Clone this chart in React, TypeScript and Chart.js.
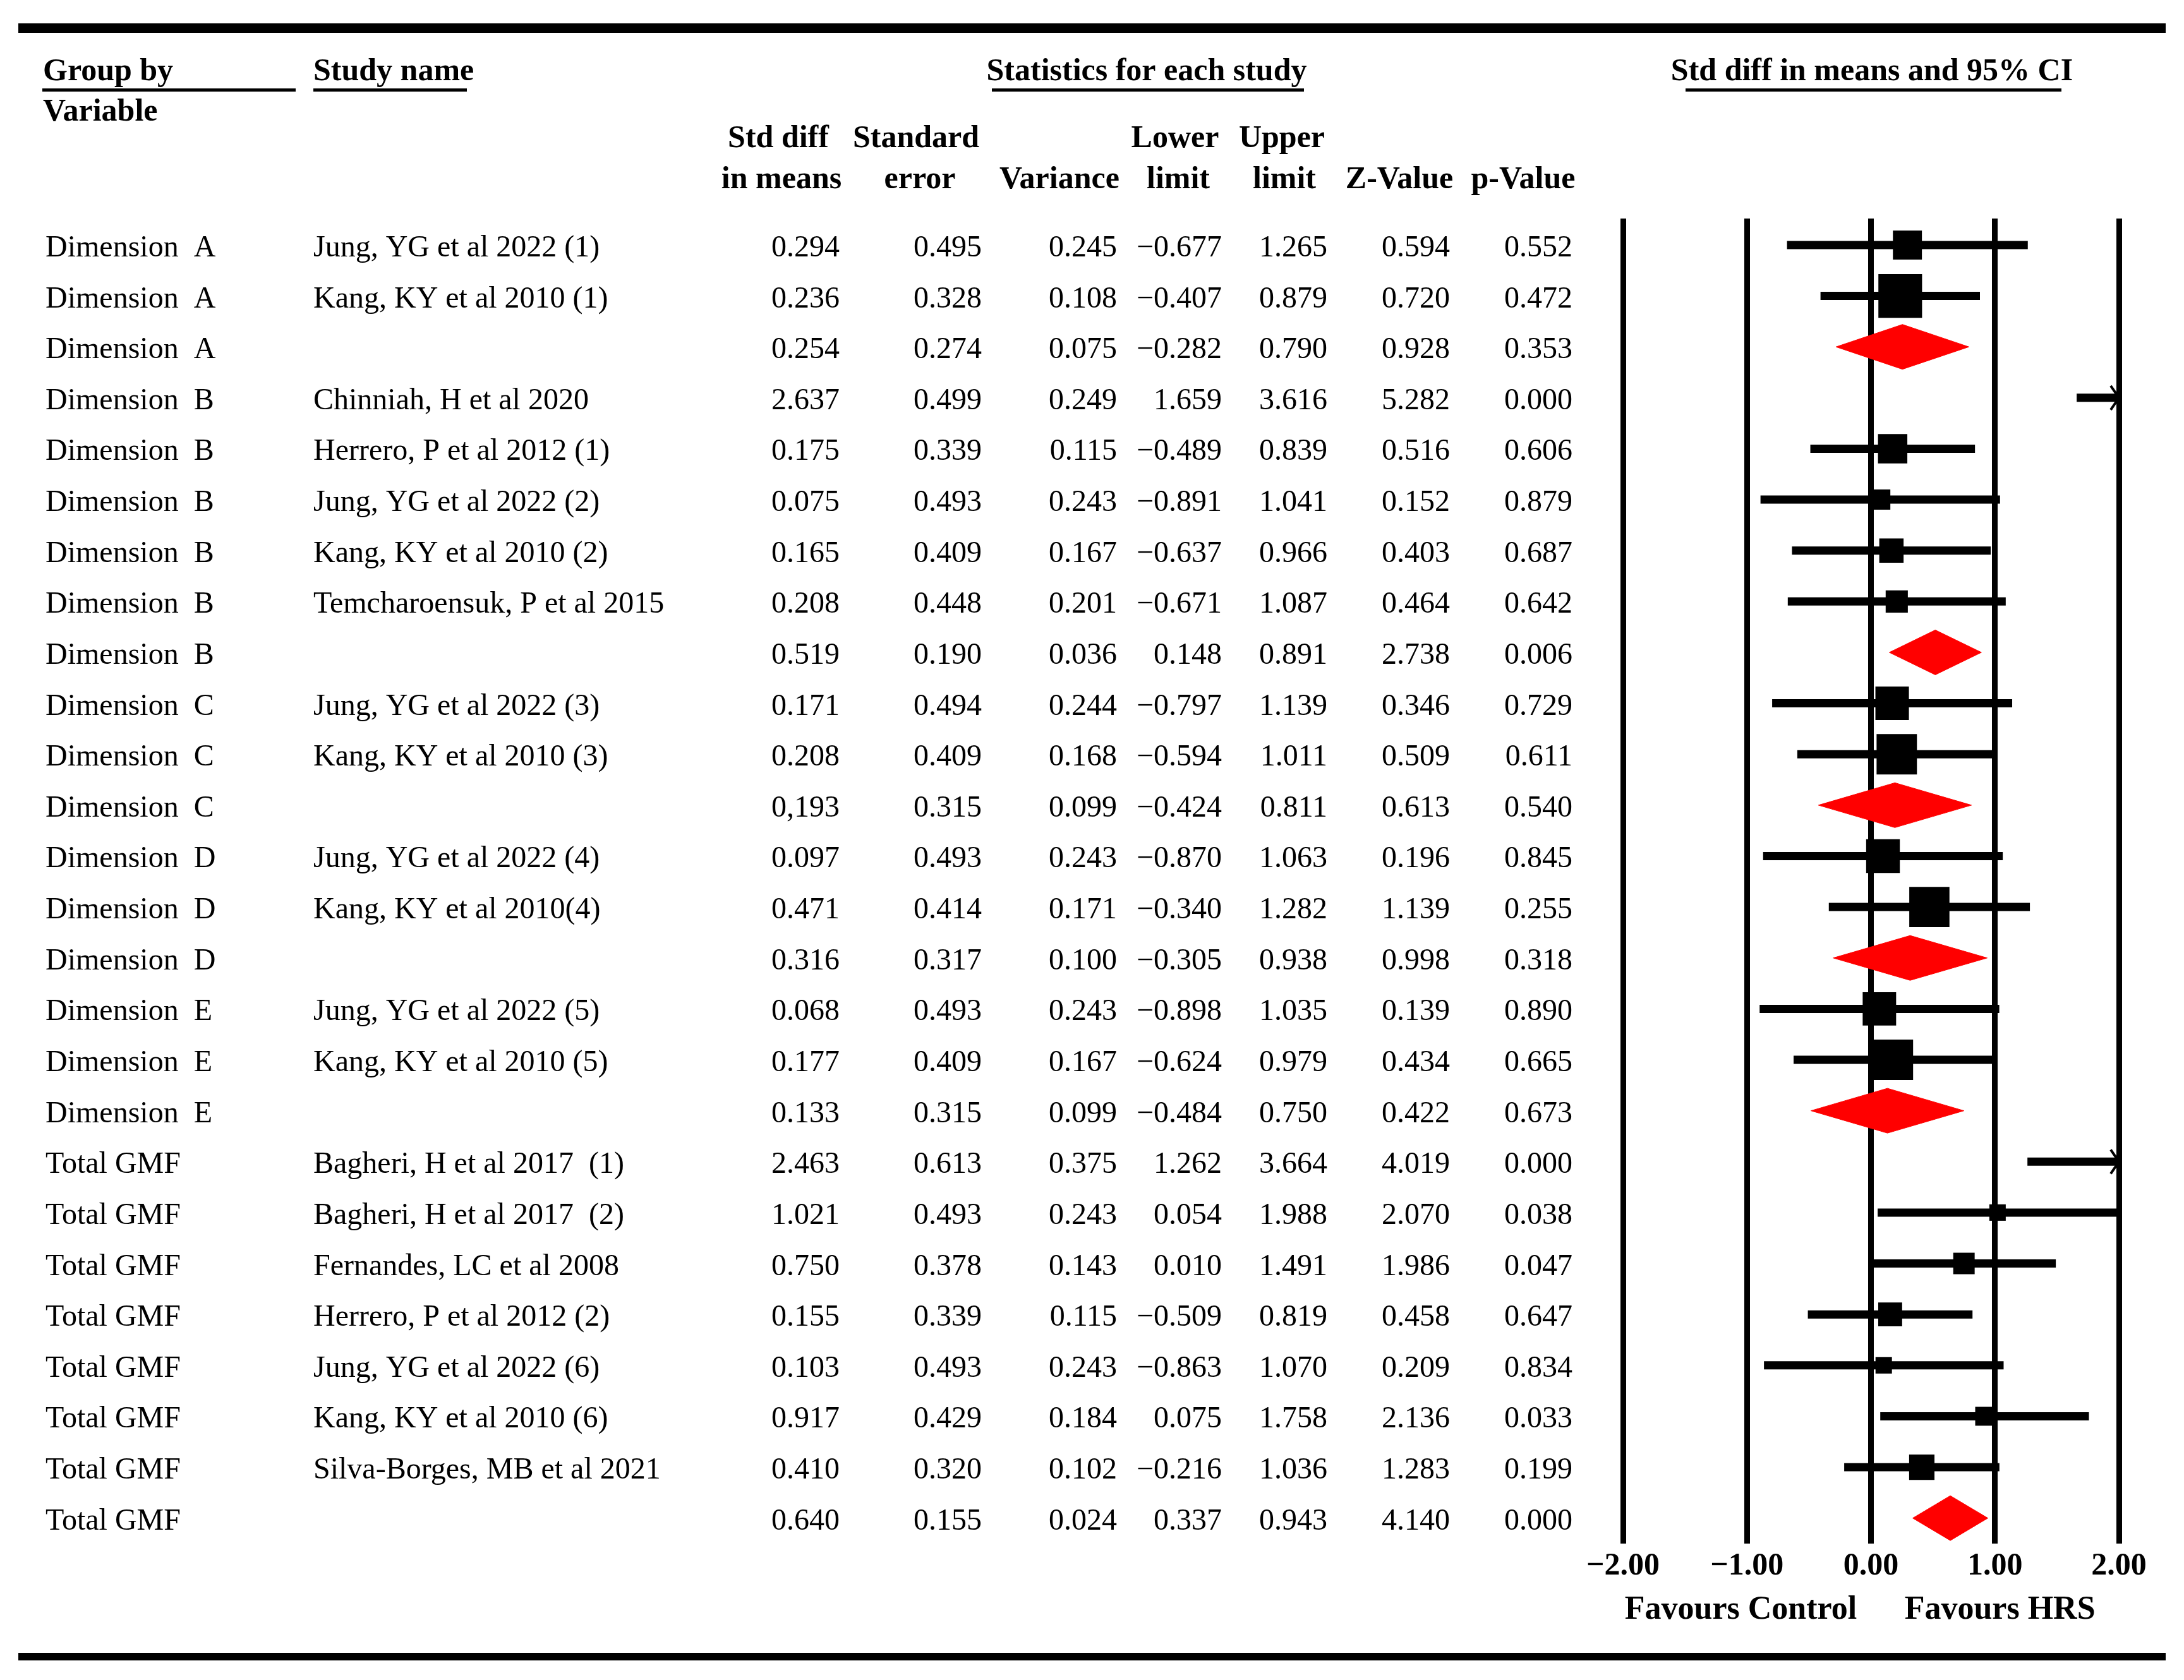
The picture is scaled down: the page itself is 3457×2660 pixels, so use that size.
import React, { useEffect, useRef } from 'react';
import { Chart, registerables } from 'chart.js';

Chart.register(...registerables);

// ---------------- data ----------------
const groups: string[] = [
  'Dimension  A', 'Dimension  A', 'Dimension  A',
  'Dimension  B', 'Dimension  B', 'Dimension  B', 'Dimension  B', 'Dimension  B', 'Dimension  B',
  'Dimension  C', 'Dimension  C', 'Dimension  C',
  'Dimension  D', 'Dimension  D', 'Dimension  D',
  'Dimension  E', 'Dimension  E', 'Dimension  E',
  'Total GMF', 'Total GMF', 'Total GMF', 'Total GMF', 'Total GMF', 'Total GMF', 'Total GMF', 'Total GMF',
];

const studies: string[] = [
  'Jung, YG et al 2022 (1)', 'Kang, KY et al 2010 (1)', '',
  'Chinniah, H et al 2020', 'Herrero, P et al 2012 (1)', 'Jung, YG et al 2022 (2)',
  'Kang, KY et al 2010 (2)', 'Temcharoensuk, P et al 2015', '',
  'Jung, YG et al 2022 (3)', 'Kang, KY et al 2010 (3)', '',
  'Jung, YG et al 2022 (4)', 'Kang, KY et al 2010(4)', '',
  'Jung, YG et al 2022 (5)', 'Kang, KY et al 2010 (5)', '',
  'Bagheri, H et al 2017  (1)', 'Bagheri, H et al 2017  (2)', 'Fernandes, LC et al 2008',
  'Herrero, P et al 2012 (2)', 'Jung, YG et al 2022 (6)', 'Kang, KY et al 2010 (6)',
  'Silva-Borges, MB et al 2021', '',
];

const stdDiff: number[] = [
  0.294, 0.236, 0.254,
  2.637, 0.175, 0.075, 0.165, 0.208, 0.519,
  0.171, 0.208, 0.193,
  0.097, 0.471, 0.316,
  0.068, 0.177, 0.133,
  2.463, 1.021, 0.750, 0.155, 0.103, 0.917, 0.410, 0.640,
];

const stdErr: number[] = [
  0.495, 0.328, 0.274,
  0.499, 0.339, 0.493, 0.409, 0.448, 0.190,
  0.494, 0.409, 0.315,
  0.493, 0.414, 0.317,
  0.493, 0.409, 0.315,
  0.613, 0.493, 0.378, 0.339, 0.493, 0.429, 0.320, 0.155,
];

const variance: number[] = [
  0.245, 0.108, 0.075,
  0.249, 0.115, 0.243, 0.167, 0.201, 0.036,
  0.244, 0.168, 0.099,
  0.243, 0.171, 0.100,
  0.243, 0.167, 0.099,
  0.375, 0.243, 0.143, 0.115, 0.243, 0.184, 0.102, 0.024,
];

const lowerLimit: number[] = [
  -0.677, -0.407, -0.282,
  1.659, -0.489, -0.891, -0.637, -0.671, 0.148,
  -0.797, -0.594, -0.424,
  -0.870, -0.340, -0.305,
  -0.898, -0.624, -0.484,
  1.262, 0.054, 0.010, -0.509, -0.863, 0.075, -0.216, 0.337,
];

const upperLimit: number[] = [
  1.265, 0.879, 0.790,
  3.616, 0.839, 1.041, 0.966, 1.087, 0.891,
  1.139, 1.011, 0.811,
  1.063, 1.282, 0.938,
  1.035, 0.979, 0.750,
  3.664, 1.988, 1.491, 0.819, 1.070, 1.758, 1.036, 0.943,
];

const zValue: number[] = [
  0.594, 0.720, 0.928,
  5.282, 0.516, 0.152, 0.403, 0.464, 2.738,
  0.346, 0.509, 0.613,
  0.196, 1.139, 0.998,
  0.139, 0.434, 0.422,
  4.019, 2.070, 1.986, 0.458, 0.209, 2.136, 1.283, 4.140,
];

const pValue: number[] = [
  0.552, 0.472, 0.353,
  0.000, 0.606, 0.879, 0.687, 0.642, 0.006,
  0.729, 0.611, 0.540,
  0.845, 0.255, 0.318,
  0.890, 0.665, 0.673,
  0.000, 0.038, 0.047, 0.647, 0.834, 0.033, 0.199, 0.000,
];

// relative weight (%) within subgroup — drives the box size (null = summary row)
const relWeight: (number | null)[] = [
  30.6, 69.4, null,
  14.5, 31.3, 14.8, 21.5, 17.9, null,
  40.8, 59.2, null,
  41.3, 58.7, null,
  40.7, 59.3, null,
  6.4, 9.8, 16.7, 20.8, 9.8, 13.0, 23.4, null,
];

// the printed std diff of the Dimension C summary uses a comma
const stdDiffPrinted: Record<number, string> = { 11: '0,193' };

const xTicks: number[] = [-2, -1, 0, 1, 2];
const xMin = -2;
const xMax = 2;

// ---------------- helpers ----------------
const rows = groups.map((_, i) => i + 1);
const fmt = (v: number, d: number) => (v < 0 ? '\u2212' : '') + Math.abs(v).toFixed(d);
const SERIF = '"Liberation Serif", "Times New Roman", serif';
const BOX_K = 8.3; // px per sqrt(% weight)
const DIAMOND_HALF = 0.44; // in row units

export default function App() {
  const canvasRef = useRef<HTMLCanvasElement | null>(null);

  useEffect(() => {
    document.body.style.margin = '0';
    document.body.style.overflow = 'hidden';
    const canvas = canvasRef.current;
    if (!canvas) return;

    const studyIdx = rows.map((_, i) => i).filter((i) => studies[i] !== '');
    const summaryIdx = rows.map((_, i) => i).filter((i) => studies[i] === '');

    const squareData = studyIdx.map((i) => ({ x: stdDiff[i], y: rows[i] }));
    const squareRadius = studyIdx.map((i) => (BOX_K * Math.sqrt(relWeight[i] as number)) / Math.SQRT2);

    const ciDatasets = studyIdx.map((i) => ({
      type: 'line' as const,
      data: [
        { x: lowerLimit[i], y: rows[i] },
        { x: upperLimit[i], y: rows[i] },
      ],
      borderColor: '#000',
      borderWidth: 13,
      borderCapStyle: 'butt' as const,
      pointRadius: 0,
      fill: false,
      clip: 0,
    }));

    const diamondDatasets = summaryIdx.map((i) => ({
      type: 'line' as const,
      data: [
        { x: lowerLimit[i], y: rows[i] },
        { x: stdDiff[i], y: rows[i] - DIAMOND_HALF },
        { x: upperLimit[i], y: rows[i] },
        { x: stdDiff[i], y: rows[i] + DIAMOND_HALF },
        { x: lowerLimit[i], y: rows[i] },
      ],
      borderColor: 'rgb(255,0,0)',
      backgroundColor: 'rgb(255,0,0)',
      borderWidth: 1,
      pointRadius: 0,
      tension: 0,
      fill: 'shape',
      clip: 0,
    }));

    const tablePlugin = {
      id: 'forestTable',
      afterDatasetsDraw(chart: any) {
        const { ctx, chartArea, scales } = chart;
        const ys = scales.y;
        ctx.save();
        ctx.strokeStyle = '#000';
        ctx.lineWidth = 4;
        rows.forEach((r, i) => {
          if (studies[i] === '') return;
          const py = ys.getPixelForValue(r);
          if (upperLimit[i] > xMax) {
            const rx = chartArea.right;
            ctx.beginPath();
            ctx.moveTo(rx - 13, py - 19);
            ctx.lineTo(rx, py);
            ctx.lineTo(rx - 13, py + 19);
            ctx.stroke();
          }
          if (lowerLimit[i] < xMin) {
            const lx = chartArea.left;
            ctx.beginPath();
            ctx.moveTo(lx + 13, py - 19);
            ctx.lineTo(lx, py);
            ctx.lineTo(lx + 13, py + 19);
            ctx.stroke();
          }
        });
        ctx.restore();
      },
      afterDraw(chart: any) {
        const { ctx, scales } = chart;
        const ys = scales.y;
        const xs = scales.x;
        ctx.save();
        ctx.fillStyle = '#000';

        // thick rules top and bottom
        ctx.fillRect(29, 37, 3399, 15);
        ctx.fillRect(29, 2617, 3399, 12);

        // headers
        ctx.font = `bold 50px ${SERIF}`;
        ctx.textBaseline = 'alphabetic';
        ctx.textAlign = 'left';
        ctx.fillText('Group by', 68, 127);
        ctx.fillText('Variable', 68, 191);
        ctx.fillText('Study name', 496, 127);
        ctx.textAlign = 'center';
        ctx.fillText('Statistics for each study', 1815, 127);
        ctx.fillText('Std diff in means and 95% CI', 2963, 127);
        // header underlines
        ctx.fillRect(67, 140, 401, 5);
        ctx.fillRect(496, 140, 243, 5);
        ctx.fillRect(1570, 140, 494, 5);
        ctx.fillRect(2668, 140, 595, 5);

        // column headers
        const head1: [string, number][] = [['Std diff', 1232], ['Standard', 1450], ['Lower', 1860], ['Upper', 2029]];
        const head2: [string, number][] = [
          ['in means', 1237], ['error', 1456], ['Variance', 1677], ['limit', 1865],
          ['limit', 2033], ['Z-Value', 2215], ['p-Value', 2411],
        ];
        head1.forEach(([t, cx]) => ctx.fillText(t, cx, 233));
        head2.forEach(([t, cx]) => ctx.fillText(t, cx, 298));

        // table rows
        ctx.font = `48px ${SERIF}`;
        const numCols: [number[], number][] = [
          [stdDiff, 1329], [stdErr, 1554], [variance, 1768], [lowerLimit, 1934],
          [upperLimit, 2101], [zValue, 2295], [pValue, 2489],
        ];
        rows.forEach((r, i) => {
          const py = ys.getPixelForValue(r) + 18;
          ctx.textAlign = 'left';
          ctx.fillText(groups[i], 72, py);
          if (studies[i]) ctx.fillText(studies[i], 496, py);
          ctx.textAlign = 'right';
          numCols.forEach(([arr, rx], c) => {
            const txt = c === 0 && stdDiffPrinted[i] ? stdDiffPrinted[i] : fmt(arr[i], 3);
            ctx.fillText(txt, rx, py);
          });
        });

        // favours labels
        ctx.font = `bold 52px ${SERIF}`;
        ctx.textAlign = 'center';
        ctx.fillText('Favours Control', xs.getPixelForValue(-1.05), 2563);
        ctx.fillText('Favours HRS', xs.getPixelForValue(1.04), 2563);
        ctx.restore();
      },
    };

    const chart = new Chart(canvas, {
      type: 'scatter',
      data: {
        datasets: [
          {
            type: 'scatter',
            data: squareData,
            pointStyle: 'rect',
            radius: squareRadius,
            pointRadius: squareRadius,
            backgroundColor: '#000',
            pointBackgroundColor: '#000',
            borderWidth: 0,
            pointBorderWidth: 0,
            clip: 0,
          } as any,
          ...(ciDatasets as any[]),
          ...(diamondDatasets as any[]),
        ],
      },
      options: {
        animation: false,
        responsive: false,
        maintainAspectRatio: false,
        devicePixelRatio: 1,
        events: [],
        layout: { padding: { left: 2569, right: 103, top: 346, bottom: 116 } },
        plugins: { legend: { display: false }, tooltip: { enabled: false } },
        scales: {
          x: {
            type: 'linear',
            min: xMin,
            max: xMax,
            position: 'bottom',
            offset: false,
            afterFit: (s: any) => {
              s.height = 100;
            },
            afterBuildTicks: (s: any) => {
              s.ticks = xTicks.map((v) => ({ value: v }));
            },
            ticks: {
              autoSkip: false,
              maxRotation: 0,
              padding: 6,
              color: '#000',
              font: { family: SERIF, size: 50, weight: 'bold' },
              callback: (v: any) => fmt(Number(v), 2),
            },
            grid: { color: '#000', lineWidth: 9, drawTicks: false, offset: false },
            border: { display: false },
          },
          y: {
            type: 'linear',
            min: 0.48,
            max: 26.5,
            reverse: true,
            display: false,
            offset: false,
            grid: { offset: false },
          },
        },
      } as any,
      plugins: [tablePlugin],
    });

    return () => chart.destroy();
  }, []);

  return (
    <div style={{ position: 'absolute', left: 0, top: 0, width: 3457, height: 2660, background: '#fff' }}>
      <canvas ref={canvasRef} width={3457} height={2660} style={{ display: 'block', width: 3457, height: 2660 }} />
    </div>
  );
}
